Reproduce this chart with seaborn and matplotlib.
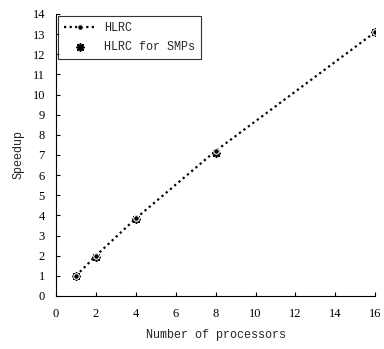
import matplotlib
matplotlib.use("Agg")
import matplotlib.pyplot as plt
import seaborn as sns
import pandas as pd

procs = [1, 2, 4, 8, 16]
hlrc = [1.0, 2.0, 3.85, 7.2, 13.1]
hlrc_smp = [1.0, 1.95, 3.8, 7.1, 13.1]
xticks = [0, 2, 4, 6, 8, 10, 12, 14, 16]
yticks = list(range(0, 15))

sns.set_style("ticks")
plt.rcParams['font.family'] = ['Liberation Serif', 'DejaVu Serif']

fig = plt.figure(figsize=(3.84, 3.49), dpi=100)
ax = fig.add_axes([0.146, 0.152, 0.831, 0.808])

df1 = pd.DataFrame({"x": procs, "y": hlrc})
df2 = pd.DataFrame({"x": procs, "y": hlrc_smp})

sns.lineplot(data=df1, x="x", y="y", ax=ax, color="black", linestyle=(0, (1, 1.5)),
             linewidth=1.6, marker="o", markersize=4, label="HLRC")
sns.scatterplot(data=df2, x="x", y="y", ax=ax, color="black", marker=(8, 2, 0),
                s=28, linewidth=1.2, edgecolor="black", label="HLRC for SMPs")

ax.set_xlim(0, 16)
ax.set_ylim(0, 14)
ax.set_xticks(xticks)
ax.set_yticks(yticks)
ax.tick_params(direction="in", length=3, labelsize=9, colors="black")
ax.tick_params(axis="x", pad=9)
ax.tick_params(axis="y", pad=8)
ax.set_xlabel("Number of processors", fontsize=8.5, family="Liberation Mono", labelpad=6)
ax.set_ylabel("Speedup", fontsize=8.5, family="Liberation Mono", labelpad=6)
sns.despine(ax=ax)
for s in ["left", "bottom"]:
    ax.spines[s].set_color("black")
    ax.spines[s].set_linewidth(0.8)

leg = ax.legend(loc="upper left", frameon=True, fancybox=False, edgecolor="black",
                prop={"family": "Liberation Mono", "size": 8.5}, borderaxespad=0.2,
                handlelength=2.6, borderpad=0.5, labelspacing=0.6)
leg.get_frame().set_linewidth(0.8)

fig.savefig("out.png", dpi=100)
